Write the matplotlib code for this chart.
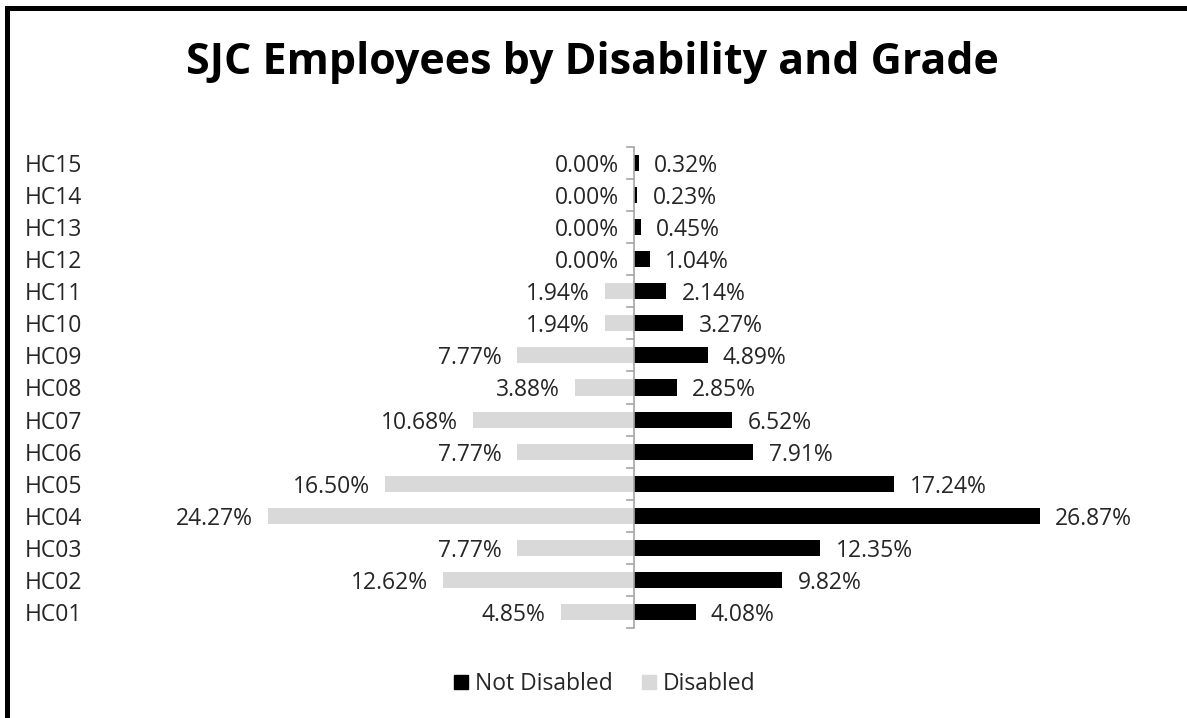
import matplotlib.pyplot as plt
import numpy as np
from matplotlib.patches import Rectangle, Patch
from matplotlib.transforms import blended_transform_factory

plt.rcParams['font.family'] = ['Open Sans', 'DejaVu Sans']

grades = ['HC01', 'HC02', 'HC03', 'HC04', 'HC05', 'HC06', 'HC07', 'HC08',
          'HC09', 'HC10', 'HC11', 'HC12', 'HC13', 'HC14', 'HC15']
disabled = [4.85, 12.62, 7.77, 24.27, 16.50, 7.77, 10.68, 3.88,
            7.77, 1.94, 1.94, 0.00, 0.00, 0.00, 0.00]
not_disabled = [4.08, 9.82, 12.35, 26.87, 17.24, 7.91, 6.52, 2.85,
                4.89, 3.27, 2.14, 1.04, 0.45, 0.23, 0.32]

W, H = 1187, 718
fig = plt.figure(figsize=(W / 100, H / 100), dpi=100)

# plot area placed in pixel terms: centre line at x=634
half = 30
px_per = 15.1
left_px = 634 - half * px_per
ax = fig.add_axes([left_px / W, (H - 628) / H, 2 * half * px_per / W, (628 - 147) / H])

y = np.arange(len(grades))
ax.barh(y, -np.array(disabled), height=0.5, color='#d9d9d9', label='Disabled')
ax.barh(y, not_disabled, height=0.5, color='black', label='Not Disabled')
ax.set_xlim(-half, half)
ax.set_ylim(-0.5, len(grades) - 0.5)

for s in ax.spines.values():
    s.set_visible(False)
ax.set_xticks([])
ax.set_yticks([])

# centre axis with small ticks between the grades
ax.axvline(0, color='#a6a6a6', lw=1.2, zorder=3)
for b in np.arange(-0.5, len(grades), 1.0):
    ax.plot([-0.45, 0], [b, b], color='#a6a6a6', lw=1.2, zorder=3, clip_on=False)

fs = 16.5
txt = '#262626'

# value labels at the bar ends
gap = 1.0
for i in range(len(grades)):
    ax.text(-disabled[i] - gap, y[i], f'{disabled[i]:.2f}%', ha='right',
            va='center_baseline', fontsize=fs, color=txt)
    ax.text(not_disabled[i] + gap, y[i], f'{not_disabled[i]:.2f}%', ha='left',
            va='center_baseline', fontsize=fs, color=txt)

# grade names at the left edge
tr = blended_transform_factory(fig.transFigure, ax.transData)
for i, g in enumerate(grades):
    ax.text(25 / W, y[i], g, transform=tr, ha='left', va='center_baseline',
            fontsize=fs, color=txt)

fig.text(592 / W, 1 - 63 / H, 'SJC Employees by Disability and Grade',
         ha='center', va='center', fontsize=31, fontweight='bold', color='black')

handles = [Patch(color='black', label='Not Disabled'),
           Patch(color='#d9d9d9', label='Disabled')]
fig.legend(handles=handles, loc='center', bbox_to_anchor=(605 / W, 1 - 684 / H),
           ncol=2, frameon=False, fontsize=fs, handlelength=0.6, handleheight=0.6,
           handletextpad=0.3, columnspacing=1.3, labelcolor=txt)

# thick frame along the top and left edges
fig.add_artist(Rectangle((5 / W, 1 - 11 / H), 1, 5 / H, transform=fig.transFigure,
                         color='black', lw=0))
fig.add_artist(Rectangle((5 / W, 0), 5 / W, 1 - 6 / H, transform=fig.transFigure,
                         color='black', lw=0))

fig.savefig('out.png', dpi=100, facecolor='white')
